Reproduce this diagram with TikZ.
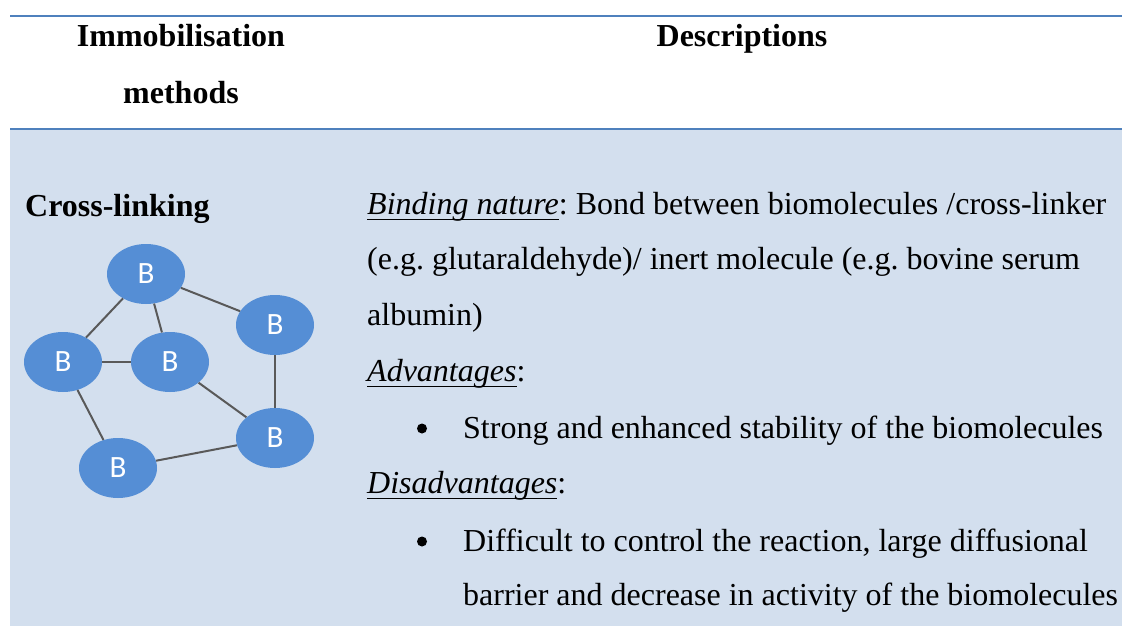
\documentclass[tikz,border=0pt]{standalone}
\usepackage{fontspec}
\usetikzlibrary{shapes.geometric}
\setmainfont{Liberation Serif}
\newfontfamily\carlitofont{Carlito}
\definecolor{ruleblue}{HTML}{4F81BD}
\definecolor{bgblue}{HTML}{D3DFEE}
\definecolor{bioblue}{HTML}{558ED5}
\definecolor{edgegray}{HTML}{595959}
\newcommand\ulword[1]{\setbox0\hbox{#1}\rlap{\vrule height -4.5pt depth 6.2pt width \wd0}\box0}
\frenchspacing
\begin{document}
\begin{tikzpicture}[x=1pt,y=-1pt,
  txt/.style={anchor=base west, inner sep=0pt, font=\fontsize{32}{32}\selectfont},
  head/.style={anchor=base, inner sep=0pt, font=\fontsize{32}{32}\selectfont\bfseries},
  bio/.style={ellipse, fill=bioblue, minimum width=78pt, minimum height=60pt, inner sep=0pt,
    text=white, font=\carlitofont\fontsize{31}{31}\selectfont},
  link/.style={draw=edgegray, line width=2pt},
  dot/.style={circle, fill=black, minimum size=10pt, inner sep=0pt},
  tabrule/.style={draw=ruleblue, line width=2.2pt}]
\useasboundingbox (0,0) rectangle (1122,626);
\fill[bgblue] (10,130) rectangle (1122,626);
\draw[tabrule] (10,16) -- (1122,16);
\draw[tabrule] (10,129) -- (1122,129);
% headers
\node[head] (h1) at (181,47) {Immobilisation};
\node[head] (h2) at (181,103) {methods};
\node[head] (h3) at (742,47) {Descriptions};
% left column
\node[txt, font=\fontsize{32}{32}\selectfont\bfseries] (cl) at (25,216) {Cross-linking};
% biomolecules
\node[bio] (b1) at (146,274) {B};
\node[bio] (b2) at (275,325) {B};
\node[bio] (b3) at (63,362) {B};
\node[bio] (b4) at (170,362) {B};
\node[bio] (b5) at (275,438) {B};
\node[bio] (b6) at (118,468) {B};
\draw[link] (b1) -- (b3);
\draw[link] (b1) -- (b4);
\draw[link] (b1) -- (b2);
\draw[link] (b2) -- (b5);
\draw[link] (b3) -- (b4);
\draw[link] (b4) -- (b5);
\draw[link] (b3) -- (b6);
\draw[link] (b6) -- (b5);
% descriptions
\node[txt] (d1) at (367,214) {\ulword{\itshape Binding nature\/}: Bond between biomolecules /cross-linker};
\node[txt] (d2) at (367,269) {(e.g. glutaraldehyde)/ inert molecule (e.g. bovine serum};
\node[txt] (d3) at (367,325) {albumin)};
\node[txt] (d4) at (367,381) {\ulword{\itshape Advantages\/}:};
\node[dot] (p1) at (422,428.5) {};
\node[txt] (d5) at (463,438) {Strong and enhanced stability of the biomolecules};
\node[txt] (d6) at (367,493) {\ulword{\itshape Disadvantages\/}:};
\node[dot] (p2) at (422,541.5) {};
\node[txt] (d7) at (463,551) {Difficult to control the reaction, large diffusional};
\node[txt] (d8) at (463,605) {barrier and decrease in activity of the biomolecules};
\end{tikzpicture}
\end{document}
